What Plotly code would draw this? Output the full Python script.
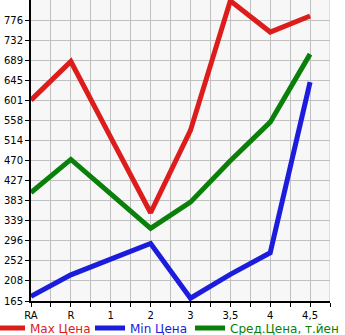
import plotly.graph_objects as go

categories = ["RA", "R", "1", "2", "3", "3,5", "4", "4,5"]
max_price = [602, 686, 521, 357, 536, 818, 750, 785]
min_price = [175, 222, 256, 290, 171, 223, 270, 641]
avg_price = [401, 473, 398, 323, 380, 470, 554, 702]
y_ticks = [165, 208, 252, 296, 339, 383, 427, 470, 514, 558, 601, 645, 689, 732, 776]

y0 = 165
step = 43.65
y_tickvals = [y0 + i * step for i in range(len(y_ticks))]
xs = list(range(len(categories)))

fig = go.Figure()
series = [
    ("Max Цена", max_price, "#dd1c1c", "legend", -10),
    ("Min Цена", min_price, "#1c1cdd", "legend2", 90),
    ("Сред.Цена, т.йен", avg_price, "#0a800a", "legend3", 190),
]
plot_w = 345 - 31 - 15
legends = {}
for name, vals, col, lg, px in series:
    fig.add_trace(go.Scatter(
        x=xs, y=vals, mode="lines",
        line=dict(color=col, width=5),
        name=f"<span style='color:{col}'>{name}</span>",
        legend=lg,
    ))
    legends[lg] = dict(orientation="h", x=(px - 31) / plot_w, xanchor="left",
                       y=-0.09, yanchor="middle", font=dict(size=12),
                       itemwidth=30, bgcolor="rgba(0,0,0,0)")

fig.update_layout(
    width=345, height=335,
    margin=dict(l=31, r=15, t=0, b=34, autoexpand=False),
    paper_bgcolor="white",
    plot_bgcolor="#f7f7f7",
    font=dict(family="DejaVu Sans", size=10, color="black"),
    showlegend=True,
    **legends,
)
fig.update_xaxes(
    range=[0, 7.5], tickvals=xs, ticktext=categories,
    showgrid=True, gridcolor="#c0c0c0", gridwidth=1,
    showline=True, linecolor="black", linewidth=2,
    ticks="outside", ticklen=4, tickcolor="black",
    minor=dict(dtick=0.5, tick0=0, showgrid=True, gridcolor="#c0c0c0", ticks="outside", ticklen=4, tickcolor="black"),
    mirror=False, zeroline=False, fixedrange=True,
)
fig.update_yaxes(
    range=[y0, y0 + 300 / 20 * step], tickvals=y_tickvals, ticktext=[str(t) for t in y_ticks],
    showgrid=True, gridcolor="#c0c0c0", gridwidth=1,
    showline=True, linecolor="black", linewidth=2,
    ticks="outside", ticklen=4, tickcolor="black",
    zeroline=False, fixedrange=True,
)
fig.add_shape(type="line", xref="x", yref="paper", x0=7.5, x1=7.5, y0=0, y1=1,
              line=dict(color="#c0c0c0", width=1))
fig.write_html("out.html")
